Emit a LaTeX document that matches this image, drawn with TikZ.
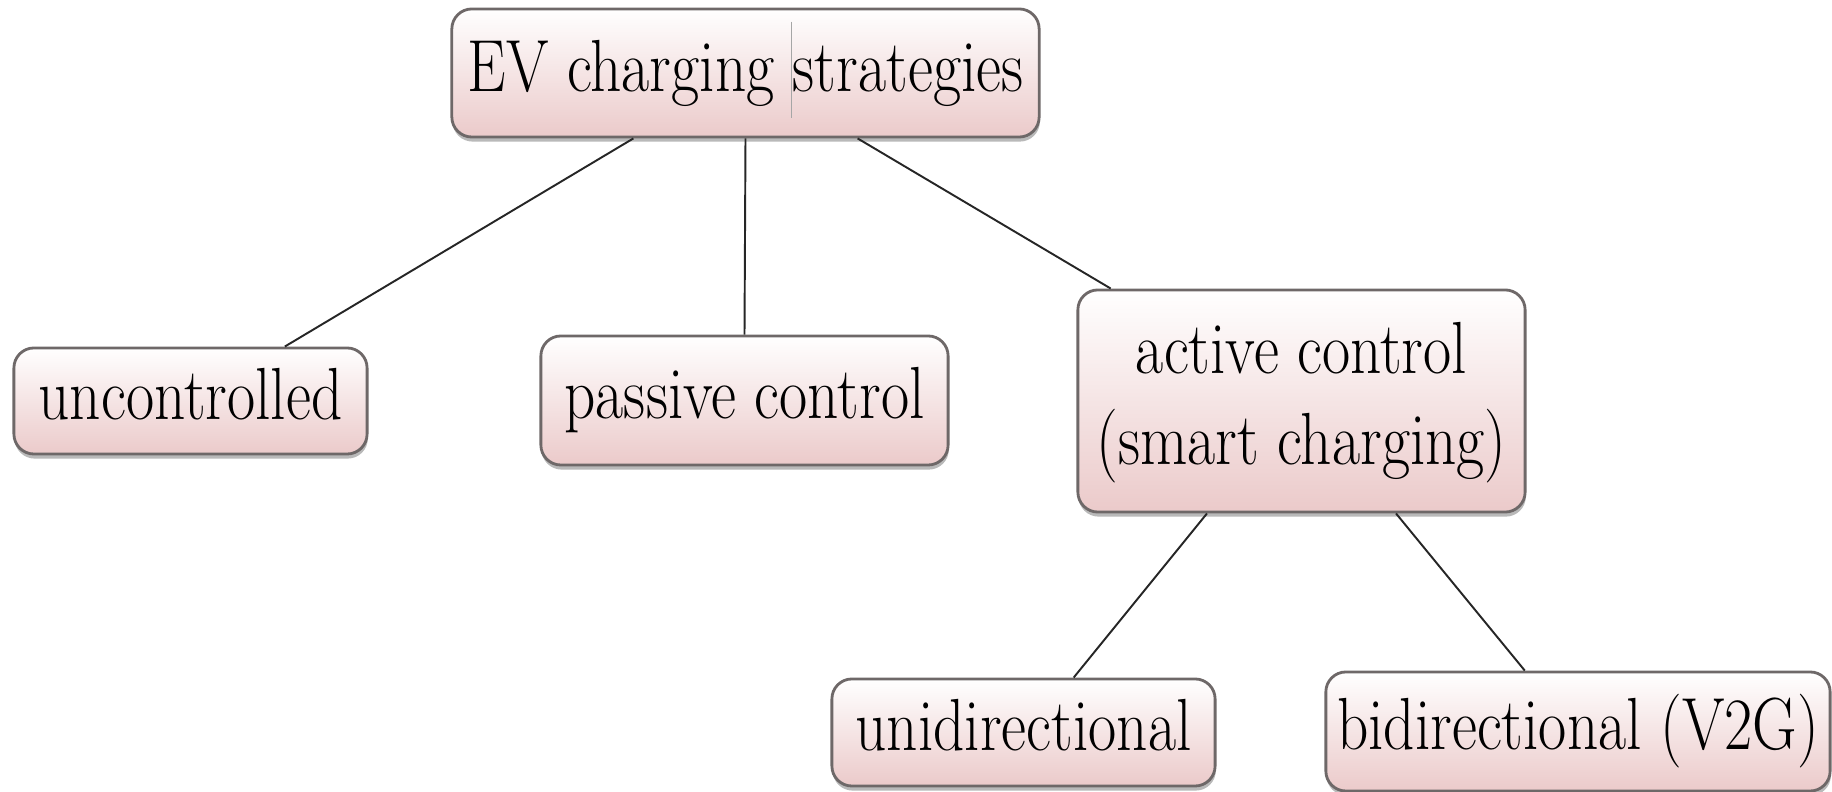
\documentclass[tikz,border=0pt]{standalone}
\usetikzlibrary{calc,shadows}
\definecolor{boxpink}{HTML}{EBCACA}
\definecolor{edgegray}{HTML}{6E6868}
\newcommand{\bxt}[1]{\scalebox{0.83}[1]{\begin{tabular}{@{}c@{}}#1\end{tabular}}}
\begin{document}
\begin{tikzpicture}[x=0.01cm,y=-0.01cm,
  box/.style={rectangle, rounded corners=0.2cm, draw=edgegray, line width=0.8pt,
    top color=white, bottom color=boxpink, inner sep=0pt,
    font=\fontsize{21}{26}\selectfont,
    drop shadow={shadow xshift=0.2pt, shadow yshift=-1.3pt, fill=gray!55, opacity=1}},
  link/.style={draw=black!85, line width=0.55pt}]
\useasboundingbox (0,0) rectangle (1832,792);

\node[box, minimum width=5.87cm, minimum height=1.28cm] (root) at (745.5,73) {\bxt{EV charging strategies}};
\node[box, minimum width=3.53cm, minimum height=1.06cm] (unc) at (190.5,401) {\bxt{uncontrolled}};
\node[box, minimum width=4.07cm, minimum height=1.29cm] (pas) at (744.5,400.5) {\bxt{passive control}};
\node[box, minimum width=4.47cm, minimum height=2.22cm] (act) at (1301.5,401) {\bxt{active control\\(smart charging)}};
\node[box, minimum width=3.83cm, minimum height=1.07cm] (uni) at (1023.5,732.5) {\bxt{unidirectional}};
\node[box, minimum width=5.04cm, minimum height=1.19cm] (bid) at (1578,731.5) {\bxt{bidirectional (V2G)}};

\draw[gray!70, line width=0.4pt] ($(root.north west)!0.578!(root.north east)+(0,14)$) coordinate (c1) -- ($(root.south west)!0.578!(root.south east)+(0,-20)$) coordinate (c2);

\draw[link] ($(root.south west)!0.31!(root.south east)$) -- ($(unc.north west)!0.765!(unc.north east)$);
\draw[link] (root.south) -- (pas.north);
\draw[link] ($(root.south west)!0.69!(root.south east)$) -- ($(act.north west)!0.076!(act.north east)$);
\draw[link] ($(act.south west)!0.29!(act.south east)$) -- ($(uni.north west)!0.63!(uni.north east)$);
\draw[link] ($(act.south west)!0.71!(act.south east)$) -- ($(bid.north west)!0.395!(bid.north east)$);
\end{tikzpicture}
\end{document}
